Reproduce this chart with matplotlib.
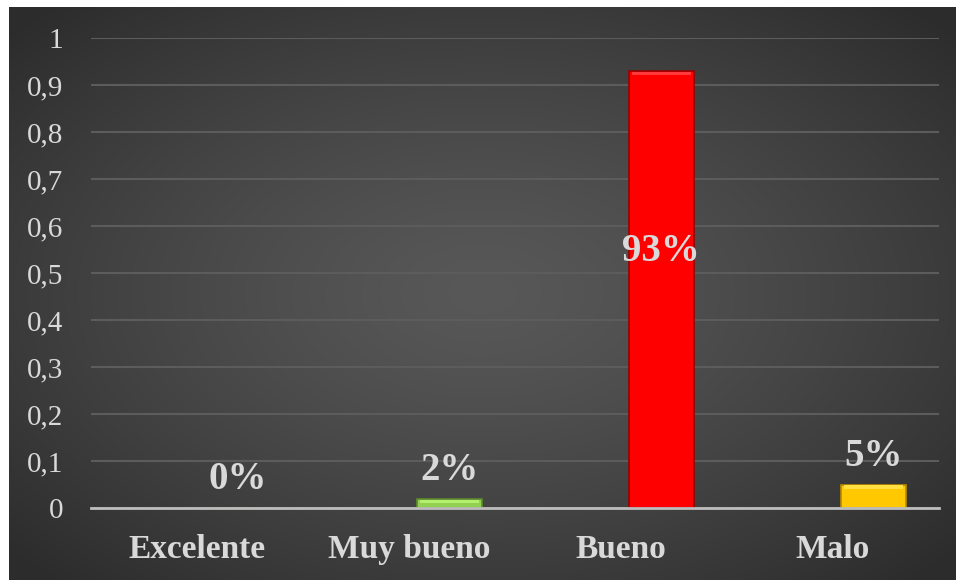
import numpy as np
import matplotlib.pyplot as plt

# datos
categorias = ['Excelente', 'Muy bueno', 'Bueno', 'Malo']
valores = [0.0, 0.02, 0.93, 0.05]
etiquetas = ['0%', '2%', '93%', '5%']
colores = ['#92d050', '#92d050', '#ff0000', '#ffc800']
claros = ['#b4f070', '#b4f070', '#ff3a3a', '#ffe040']
bordes = ['#5e8a2e', '#5e8a2e', '#9a0000', '#b88a00']
yticks = np.arange(0, 1.01, 0.1)

fig = plt.figure(figsize=(9.56, 5.8), dpi=100)
fig.patch.set_facecolor('white')

# fondo con degradado radial
bg = fig.add_axes([9/956, 0, 947/956, 573/580])
gx, gy = np.meshgrid(np.linspace(-1, 1, 400), np.linspace(-1, 1, 250))
r = np.clip(np.sqrt(gx**2 + gy**2) / 1.35, 0, 1)
grad = 0.345 - 0.17 * r**1.3
img = np.dstack([grad, grad, grad])
bg.imshow(img, aspect='auto', extent=[0, 1, 0, 1], interpolation='bicubic')
bg.set_axis_off()

ax = fig.add_axes([91/956, 72/580, 848/956, 470/580])
ax.set_facecolor('none')
x = np.arange(len(categorias))
off = 0.19
ancho = 0.307
ax.bar(x + off, valores, width=ancho, color=colores, edgecolor=bordes, linewidth=1.2, zorder=3)
# brillo superior (bisel)
brillo = [min(v, 0.007) for v in valores]
ax.bar(x + off, brillo, width=ancho * 0.9, bottom=np.array(valores) - np.array(brillo) - 0.002,
       color=claros, linewidth=0, zorder=3.5)

for i in range(len(valores)):
    if valores[i] > 0.5:
        ypos = valores[i] * 0.586
    else:
        ypos = valores[i] + 0.06
    ax.text(x[i] + off, ypos, etiquetas[i], ha='center', va='center', color='#d9d9d9',
            fontsize=28, fontweight='bold', family='Liberation Serif', zorder=4)

ax.set_xlim(-0.5, 3.5)
ax.set_ylim(0, 1)
ax.set_yticks(yticks)
ax.set_yticklabels([('%.1f' % v).replace('.', ',').replace(',0', '') for v in yticks])
ax.set_xticks(x)
ax.set_xticklabels(categorias)
ax.grid(axis='y', color='#5c5c5c', linewidth=1.5, zorder=0)
ax.set_axisbelow(True)
for s in ['top', 'right', 'left']:
    ax.spines[s].set_visible(False)
ax.spines['bottom'].set_color('#bdbdbd')
ax.spines['bottom'].set_linewidth(2)
ax.spines['bottom'].set_zorder(5)
ax.tick_params(axis='y', length=0, pad=20, labelsize=21, labelcolor='#d9d9d9')
ax.tick_params(axis='x', length=0, pad=19, labelsize=24, labelcolor='#d9d9d9')
for t in ax.get_yticklabels():
    t.set_family('Liberation Serif')
for t in ax.get_xticklabels():
    t.set_family('Liberation Serif')
    t.set_fontweight('bold')

fig.savefig('out.png', dpi=100, facecolor='white')
